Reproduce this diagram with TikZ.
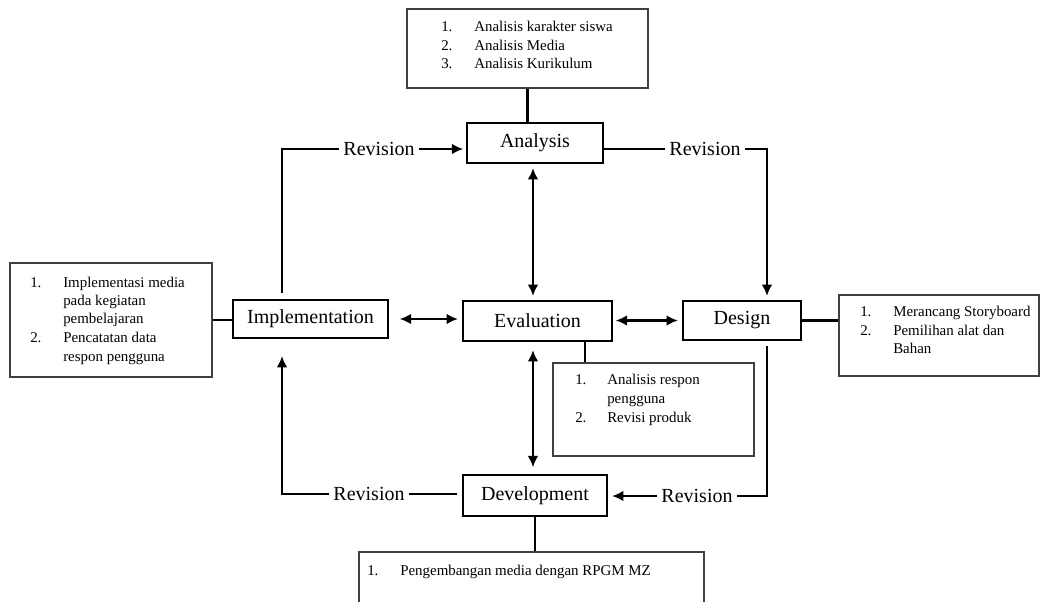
\documentclass[tikz,border=0pt]{standalone}
\usepackage{fontspec}
\setmainfont{Liberation Serif}
\usetikzlibrary{arrows.meta}
\begin{document}
\begin{tikzpicture}[x=0.75pt,y=-0.75pt,
  mainbox/.style={draw=black,line width=1.6pt,inner sep=0pt,font=\fontsize{15}{18}\selectfont},
  infobox/.style={draw=black!75,line width=0.8pt,inner sep=0pt},
  itemtxt/.style={anchor=base west,inner sep=0pt,font=\fontsize{11.2}{13}\selectfont},
  revlbl/.style={inner sep=3pt,font=\fontsize{15}{18}\selectfont},
  conn/.style={line width=1.9pt},
  arr/.style={line width=1.9pt,-{Latex[length=8.5pt,width=8pt]}},
  darr/.style={line width=1.9pt,{Latex[length=8.5pt,width=8pt]}-{Latex[length=8.5pt,width=8pt]}}]
\clip (0,0) rectangle (1040,601);
\fill[white] (0,0) rectangle (1040,601);

% main boxes
\node (ana) [mainbox,minimum width=102pt,minimum height=30pt] at (535,143) {Analysis};
\node (imp) [mainbox,minimum width=116.25pt,minimum height=28.5pt] at (310.5,319) {Implementation};
\node (eva) [mainbox,minimum width=111.75pt,minimum height=30pt] at (537.5,321) {Evaluation};
\node (des) [mainbox,minimum width=88.5pt,minimum height=29.25pt] at (742,320.5) {Design};
\node (dev) [mainbox,minimum width=108pt,minimum height=30.75pt] at (535,495.5) {Development};

% info boxes
\node (tbox) [infobox,minimum width=180.75pt,minimum height=59.25pt] at (527.5,48.5) {};
\node (lbox) [infobox,minimum width=151.5pt,minimum height=85.5pt] at (111,320) {};
\node (rbox) [infobox,minimum width=150pt,minimum height=60.75pt] at (939,335.5) {};
\node (ebox) [infobox,minimum width=150.75pt,minimum height=69.75pt] at (653.5,409.5) {};
\node (bbox) [infobox,minimum width=258.75pt,minimum height=45pt] at (531.5,582) {};

% info texts
\node (t1n) [itemtxt] at (441,31) {1.};
\node (t1) [itemtxt] at (474,31) {Analisis karakter siswa};
\node (t2n) [itemtxt] at (441,50) {2.};
\node (t2) [itemtxt] at (474,50) {Analisis Media};
\node (t3n) [itemtxt] at (441,68) {3.};
\node (t3) [itemtxt] at (474,68) {Analisis Kurikulum};

\node (l1n) [itemtxt] at (30,287) {1.};
\node (l1) [itemtxt] at (63,287) {Implementasi media};
\node (l1b) [itemtxt] at (63,305) {pada kegiatan};
\node (l1c) [itemtxt] at (63,323) {pembelajaran};
\node (l2n) [itemtxt] at (30,342) {2.};
\node (l2) [itemtxt] at (63,342) {Pencatatan data};
\node (l2b) [itemtxt] at (63,361) {respon pengguna};

\node (r1n) [itemtxt] at (860,316) {1.};
\node (r1) [itemtxt] at (893,316) {Merancang Storyboard};
\node (r2n) [itemtxt] at (860,335) {2.};
\node (r2) [itemtxt] at (893,335) {Pemilihan alat dan};
\node (r2b) [itemtxt] at (893,353) {Bahan};

\node (e1n) [itemtxt] at (575,384) {1.};
\node (e1) [itemtxt] at (607,384) {Analisis respon};
\node (e1b) [itemtxt] at (607,403) {pengguna};
\node (e2n) [itemtxt] at (575,422) {2.};
\node (e2) [itemtxt] at (607,422) {Revisi produk};

\node (b1n) [itemtxt] at (367,575) {1.};
\node (b1) [itemtxt] at (400,575) {Pengembangan media dengan RPGM MZ};

% revision labels
\node (rev1) [revlbl] at (379,149) {Revision};
\node (rev2) [revlbl] at (705,149) {Revision};
\node (rev3) [revlbl] at (369,494) {Revision};
\node (rev4) [revlbl] at (697,496) {Revision};

% free-end coordinates
\coordinate (impup) at (282,293);
\coordinate (impdn) at (282,356);
\coordinate (desdn) at (767,346);

% connectors to info boxes
\draw[conn] (tbox.south) -- (tbox.south |- ana.north);
\draw[conn] (lbox.east) -- (lbox.east -| imp.west);
\draw[conn] (des.east) -- (des.east -| rbox.west);
\draw[conn] ([xshift=35.6pt]eva.south) -- ([xshift=35.6pt]eva.south |- ebox.north);
\draw[conn] (dev.south) -- (dev.south |- bbox.north);

% central arrows
\draw[darr,shorten <=3pt,shorten >=3pt] ([xshift=-1.5pt]ana.south) -- ([xshift=-1.5pt]ana.south |- eva.north);
\draw[darr,shorten <=6pt,shorten >=5pt] ([xshift=-3.4pt]eva.south) -- ([xshift=-3.4pt]eva.south |- dev.north);
\draw[darr,shorten <=8pt,shorten >=3pt] (imp.east) -- (eva.west |- imp.east);
\draw[darr,shorten <=2pt,shorten >=3pt] (eva.east |- des.west) -- (des.west);

% revision loops
\draw[conn] (impup) |- (rev1.west);
\draw[arr,shorten >=2pt] (rev1.east) -- (rev1.east -| ana.west);
\draw[conn] (ana.east |- rev2.west) -- (rev2.west);
\draw[arr,shorten >=3pt] (rev2.east) -| ([xshift=18.75pt]des.north);
\draw[conn] (desdn) |- (rev4.east);
\draw[arr,shorten >=3pt] (rev4.west) -- (rev4.west -| dev.east);
\draw[conn,shorten <=4pt] (dev.west |- rev3.east) -- (rev3.east);
\draw[arr] (rev3.west) -| (impdn);
\end{tikzpicture}
\end{document}
